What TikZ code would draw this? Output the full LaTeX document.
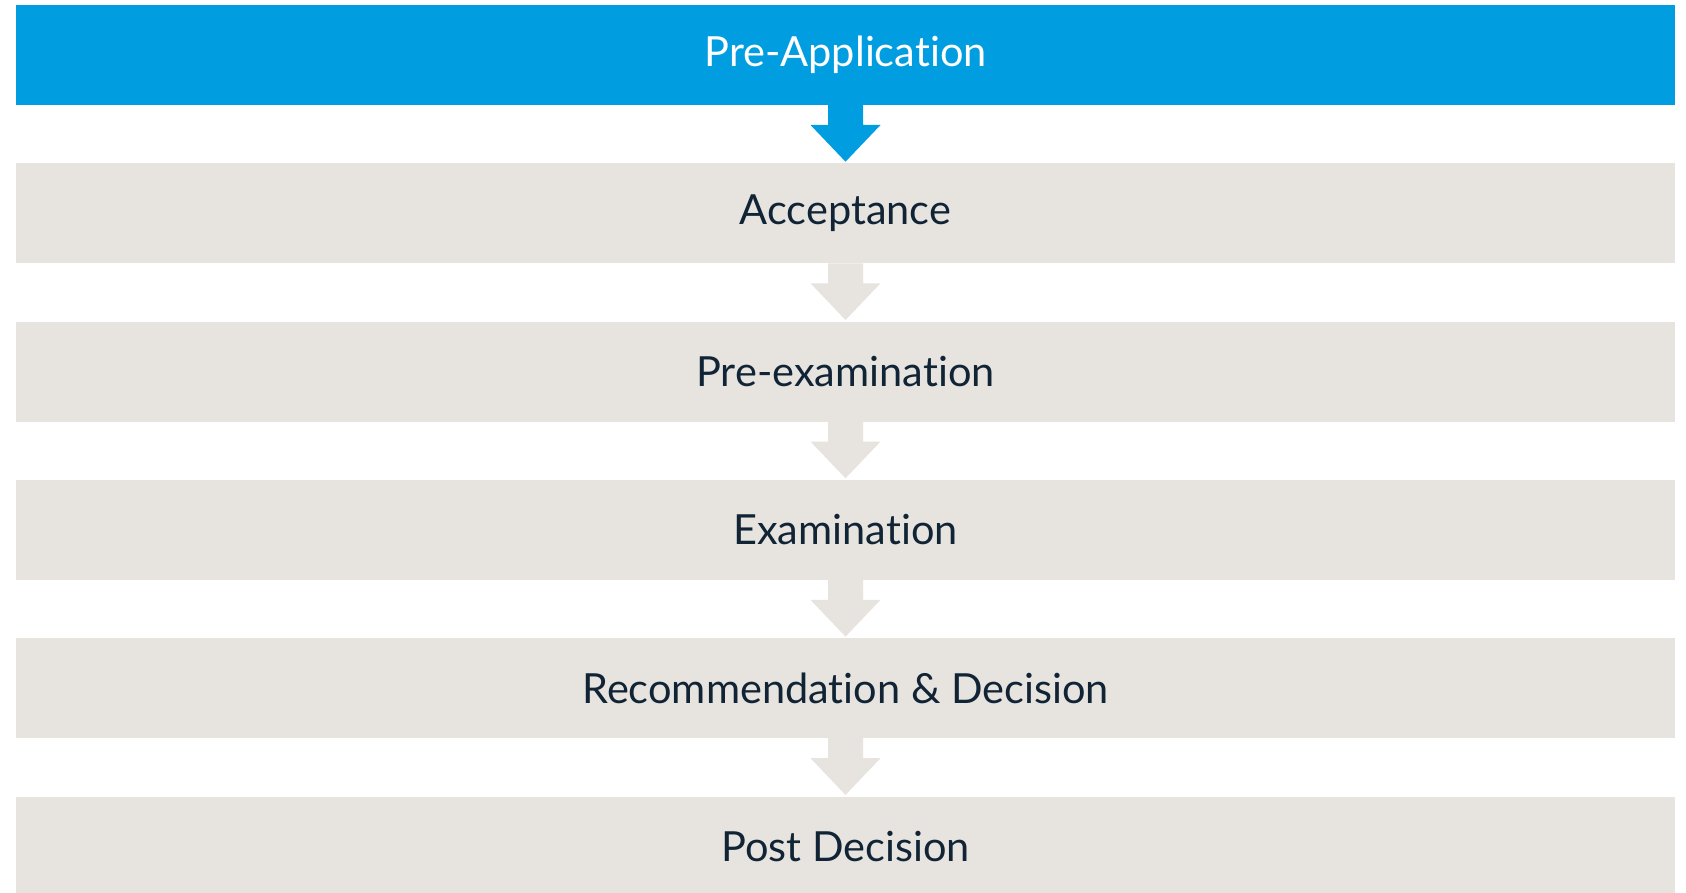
\documentclass[tikz,border=0pt]{standalone}
\usepackage{fontspec}
\setmainfont{Lato}[Ligatures=NoCommon]
\usepackage{tikz}
\usetikzlibrary{positioning, calc}
\definecolor{stageblue}{HTML}{009EE0}
\definecolor{stagegray}{HTML}{E7E3DE}
\definecolor{stagetext}{HTML}{102436}

\begin{document}
\begin{tikzpicture}[x=1pt, y=-1pt,
  stage/.style={fill=stagegray, text=stagetext, minimum width=1659pt, minimum height=100pt,
    inner sep=0pt, outer sep=0pt, font=\fontsize{41.5}{50}\selectfont},
  node distance=58.3pt]
\useasboundingbox (0, 0) rectangle (1686, 893);
\node[stage, fill=stageblue, text=white] (pre) at (845.5, 55) {Pre-Application};
\node[stage, below=of pre] (acc) {Acceptance};
\node[stage, below=of acc] (prex) {Pre-examination};
\node[stage, below=of prex] (exam) {Examination};
\node[stage, below=of exam] (rec) {Recommendation \& Decision};
\node[stage, below=of rec] (post) {Post Decision};
% block arrows between the stages
\foreach \a/\b/\c in {pre/acc/stageblue, acc/prex/stagegray, prex/exam/stagegray,
                      exam/rec/stagegray, rec/post/stagegray}
  \fill[\c] ($(\a.south)+(-17.5, 0)$) -- ($(\a.south)+(-17.5, 20)$) -- ($(\a.south)+(-35, 20)$)
    -- ($(\a.south)+(0, 56.7)$) -- ($(\a.south)+(35, 20)$) -- ($(\a.south)+(17.5, 20)$)
    -- ($(\a.south)+(17.5, 0)$) -- cycle;
\end{tikzpicture}
\end{document}
